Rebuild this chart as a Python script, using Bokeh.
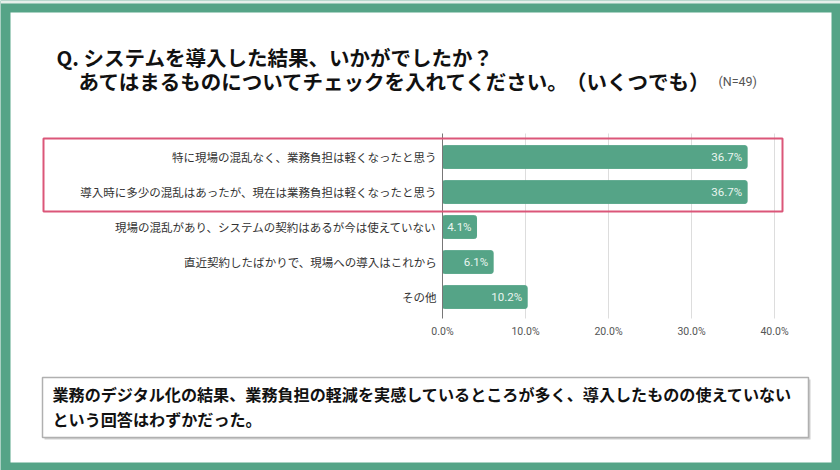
from bokeh.plotting import figure
from bokeh.models import (ColumnDataSource, Range1d, BoxAnnotation, Label, LinearAxis,
                          FixedTicker, CustomJSTickFormatter)
from bokeh.embed import file_html
from bokeh.resources import INLINE
from bokeh.core.properties import value

# ---- data ----
categories = [
    "特に現場の混乱なく、業務負担は軽くなったと思う",
    "導入時に多少の混乱はあったが、現在は業務負担は軽くなったと思う",
    "現場の混乱があり、システムの契約はあるが今は使えていない",
    "直近契約したばかりで、現場への導入はこれから",
    "その他",
]
percent = [36.7, 36.7, 4.1, 6.1, 10.2]
x_ticks = [0, 10, 20, 30, 40]
title_line1 = "Q. システムを導入した結果、いかがでしたか？"
title_line2a = "あてはまるものについてチェックを入れてください。"
title_line2b = "（いくつでも）"
n_note = "(N=49)"
summary_line1 = "業務のデジタル化の結果、業務負担の軽減を実感しているところが多く、導入したものの使えていない"
summary_line2 = "という回答はわずかだった。"

W, H = 840, 470
GREEN = "#55a487"
JP = "Noto Sans CJK JP"

# ---- layout geometry (canvas pixels) ----
X0_PX, PX_PER_PCT = 442.0, 8.3          # 0% position, pixels per percent
ROW_PX, TOP_ROW_PX = 35.0, 156.5         # row pitch, centre of first row
n = len(categories)
ys = [n - 1 - i for i in range(n)]       # first category on top
x_start = -X0_PX / PX_PER_PCT
x_end = (W - X0_PX) / PX_PER_PCT
y_end = (n - 1) + TOP_ROW_PX / ROW_PX
y_start = y_end - H / ROW_PX

def ydata(py):
    return y_end - py / ROW_PX

def box(l, t, r, b, **kw):
    return BoxAnnotation(left=l, right=r, top=t, bottom=b,
                         left_units="canvas", right_units="canvas",
                         top_units="canvas", bottom_units="canvas", **kw)

def label(x, y, text, **kw):
    return Label(x=x, y=y, x_units="canvas", y_units="canvas", text=text,
                 text_baseline="middle", **kw)

src = ColumnDataSource(dict(
    y=ys,
    val=percent,
    lab=[f"{v:.1f}%" for v in percent],
))

p = figure(width=W, height=H, output_backend="svg", toolbar_location=None,
           x_range=Range1d(x_start, x_end), y_range=Range1d(y_start, y_end),
           min_border=0, x_axis_location=None, y_axis_location=None)
p.background_fill_color = GREEN
p.border_fill_color = GREEN
p.outline_line_color = None
for g in p.grid:
    g.visible = False

# frame: light line on top, white inner panel
p.add_layout(box(0, 0, 840, 3, fill_color="#e6f0eb", fill_alpha=1, line_color=None, level="image"))
p.add_layout(box(10, 12, 831, 462, fill_color="white", fill_alpha=1, line_color=None, level="image"))

# vertical grid lines at the x ticks (limited to the chart rows)
grid_src = ColumnDataSource(dict(x=x_ticks[1:]))
p.segment(x0="x", x1="x", y0=ydata(318), y1=ydata(133), source=grid_src,
          line_color="#dddddd", line_width=1, level="underlay")

# bars
p.hbar(y="y", right="val", left=0, height=0.65, source=src,
       fill_color=GREEN, line_color=GREEN, line_width=1, border_radius=2)
p.text(x="val", y="y", text="lab", source=src, x_offset=-5,
       text_align="right", text_baseline="middle", text_color="#eaf5ef",
       text_font=value("Roboto"), text_font_size="11.5px")

# axes placed at fixed locations inside the frame
xaxis = LinearAxis(fixed_location=ydata(313), bounds=(0, 40),
                   ticker=FixedTicker(ticks=x_ticks),
                   formatter=CustomJSTickFormatter(code="return tick.toFixed(1) + '%';"))
xaxis.axis_line_color = None
xaxis.major_tick_line_color = None
xaxis.minor_tick_line_color = None
xaxis.major_tick_out = 0
xaxis.major_label_standoff = 11
xaxis.major_label_text_font = "Roboto"
xaxis.major_label_text_font_size = "10.5px"
xaxis.major_label_text_color = "#555555"
p.add_layout(xaxis, "below")

yaxis = LinearAxis(fixed_location=0, bounds=(ydata(318), ydata(133)),
                   ticker=FixedTicker(ticks=ys),
                   major_label_overrides={y: c for y, c in zip(ys, categories)})
yaxis.axis_line_color = "#777777"
yaxis.major_tick_line_color = None
yaxis.minor_tick_line_color = None
yaxis.major_tick_out = 0
yaxis.major_label_standoff = 6
yaxis.major_label_text_font = JP
yaxis.major_label_text_font_size = "11.5px"
yaxis.major_label_text_color = "#333333"
p.add_layout(yaxis, "left")

# highlight box
p.add_layout(box(43, 138, 782, 211, fill_alpha=0, line_color="#db5679", line_alpha=1,
                 line_width=2, level="overlay"))

# title
p.add_layout(label(56, 56, title_line1, text_font=JP, text_font_size="20.5px",
                   text_font_style="bold", text_color="#111111"))
p.add_layout(label(78, 80, title_line2a, text_font=JP, text_font_size="20.5px",
                   text_font_style="bold", text_color="#111111"))
p.add_layout(label(709, 80, title_line2b, text_font=JP, text_font_size="20.5px",
                   text_font_style="bold", text_color="#111111", text_align="right"))
p.add_layout(label(718, 81, n_note, text_font="Roboto", text_font_size="12.5px",
                   text_color="#555555"))

# summary box (shadow + box)
p.add_layout(box(44, 379, 810, 439, fill_color="#cfcfcf", fill_alpha=1, line_color=None, level="overlay"))
p.add_layout(box(42, 377, 808, 437, fill_color="white", fill_alpha=1, line_color="#b0b0b0",
                 line_alpha=1, line_width=1.5, level="overlay"))
p.add_layout(label(52, 393, summary_line1, text_font=JP, text_font_size="16.1px",
                   text_font_style="bold", text_color="#111111", level="overlay"))
p.add_layout(label(52, 418, summary_line2, text_font=JP, text_font_size="16.1px",
                   text_font_style="bold", text_color="#111111", level="overlay"))

open("out.html", "w").write(file_html(p, INLINE))
